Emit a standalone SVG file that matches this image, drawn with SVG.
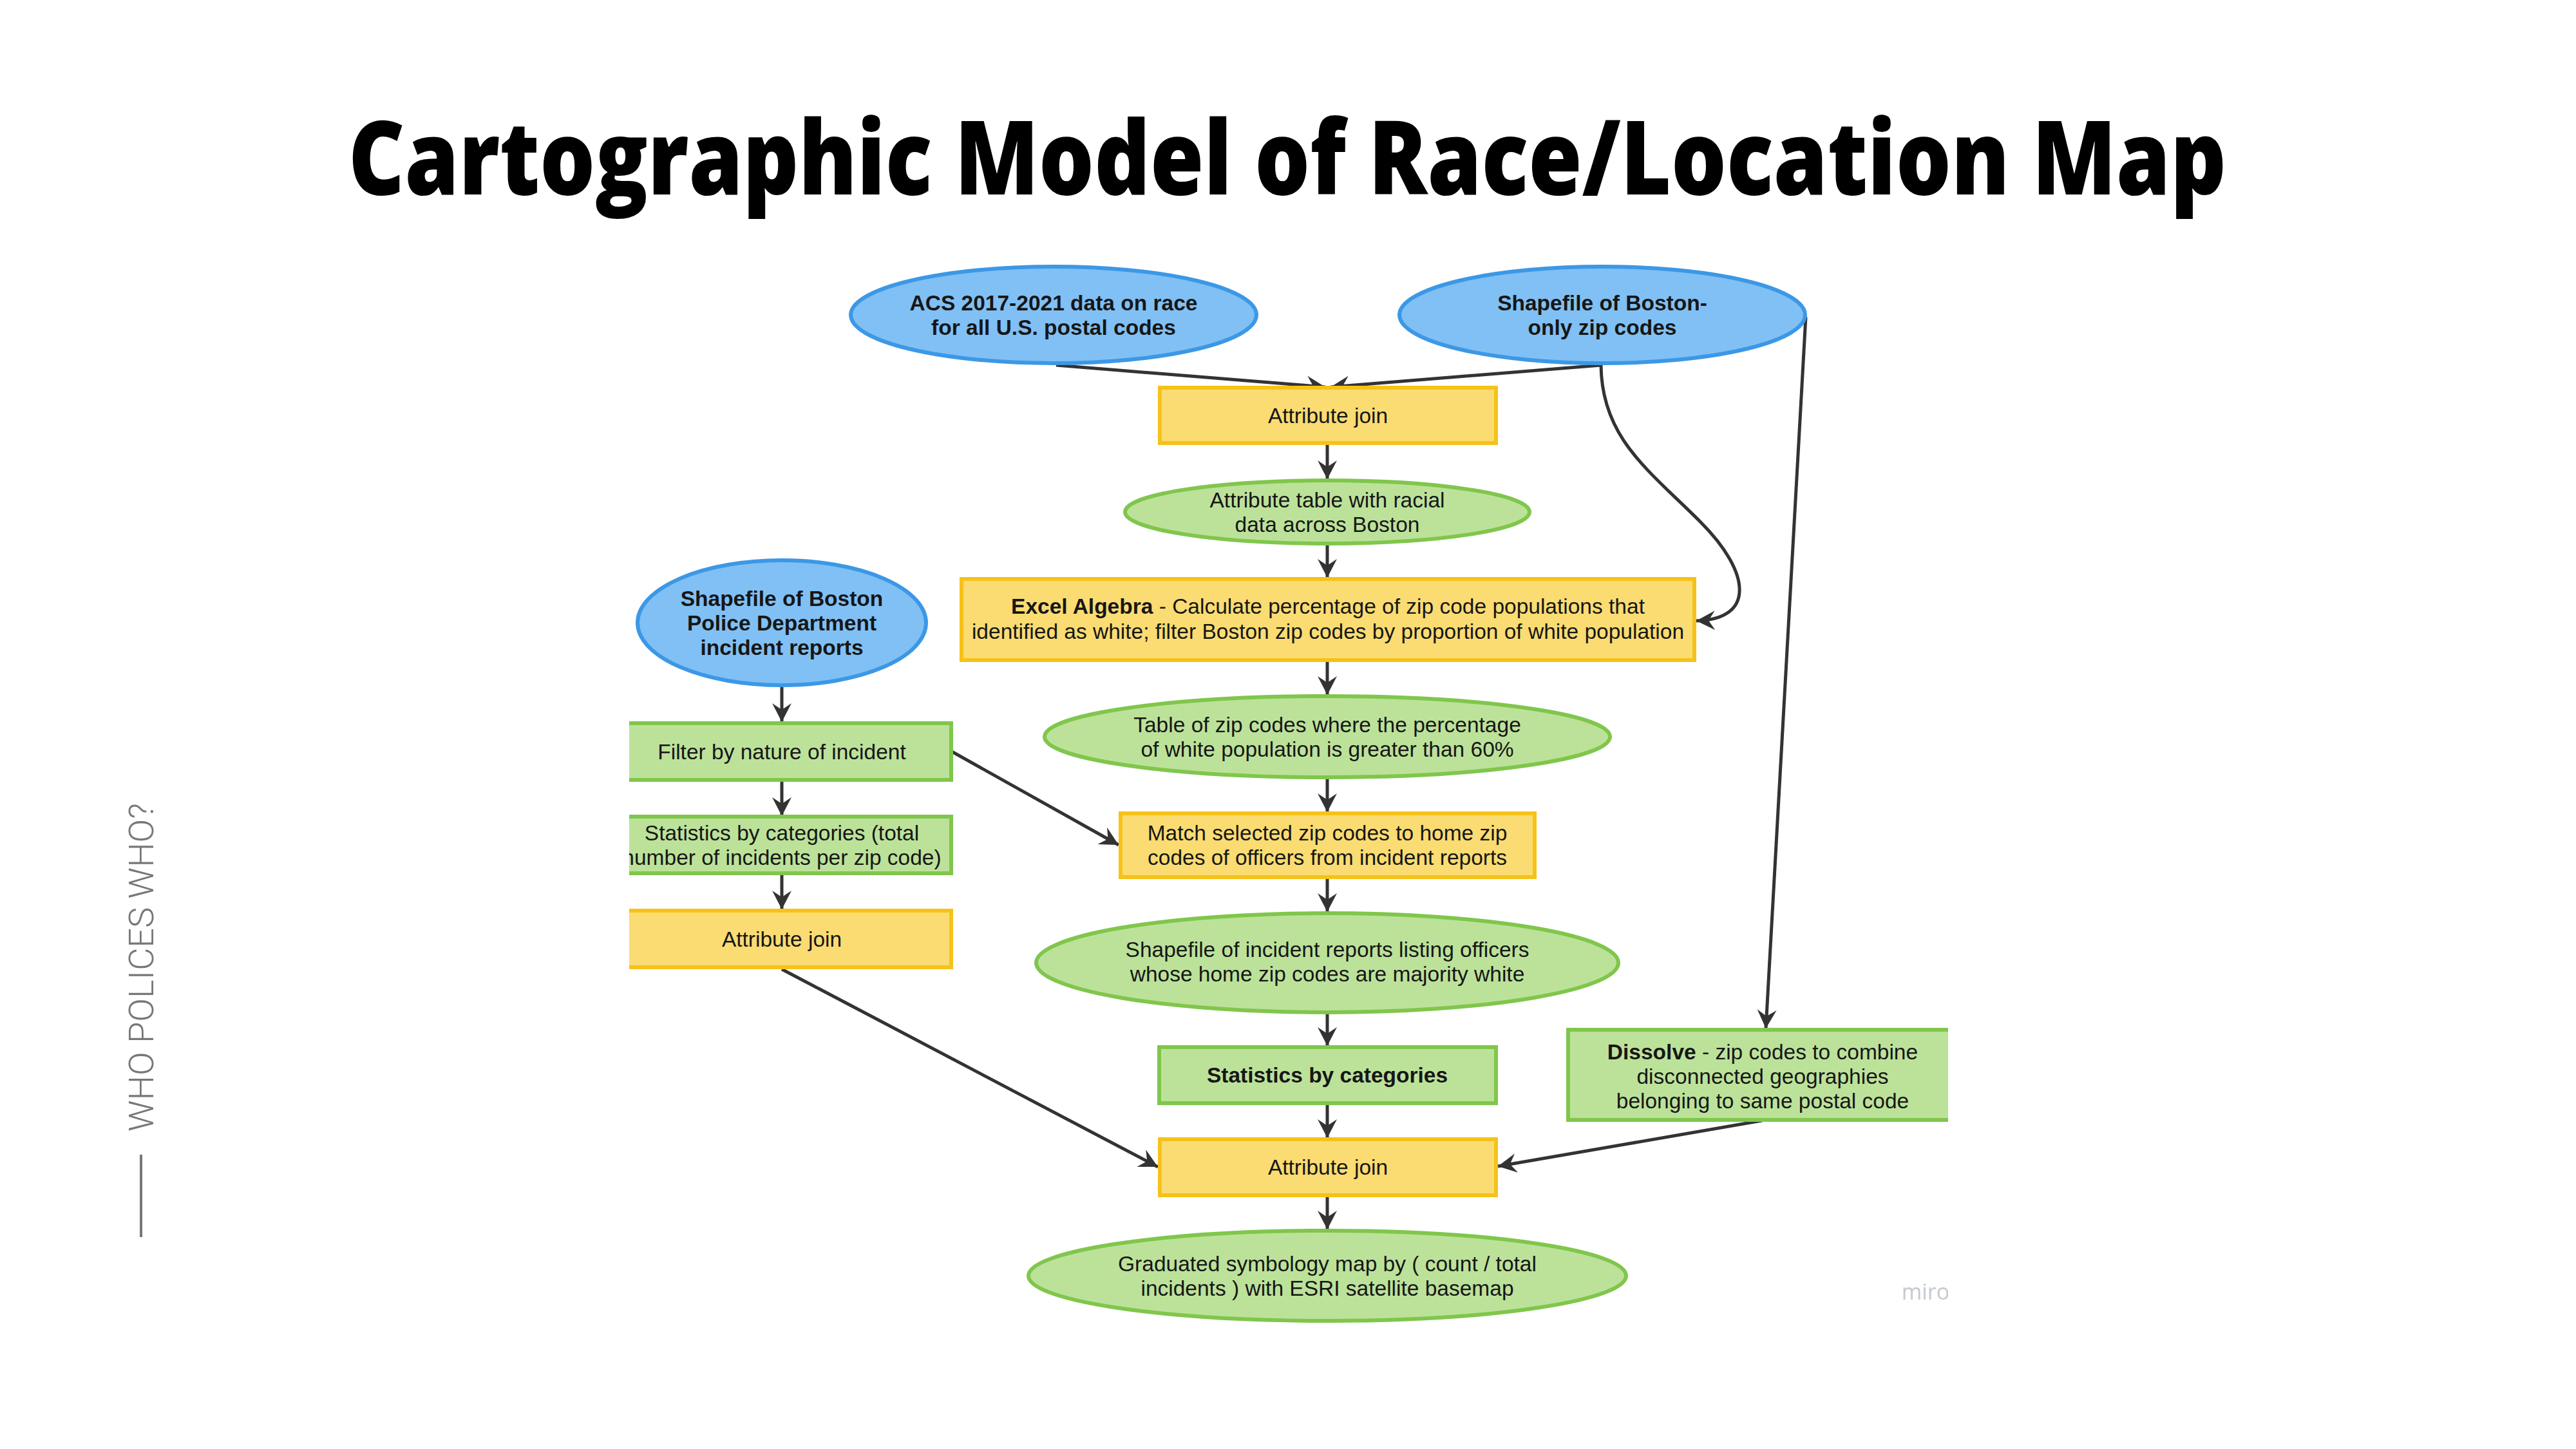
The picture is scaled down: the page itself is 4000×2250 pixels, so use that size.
<svg xmlns="http://www.w3.org/2000/svg" width="4000" height="2250" viewBox="0 0 4000 2250">
<style>
.blue{fill:#80C0F4;stroke:#3C98E6;stroke-width:6}
.green{fill:#BCE29A;stroke:#80C64C;stroke-width:6}
.yellow{fill:#FADC72;stroke:#F6C218;stroke-width:6}
.t{font-family:"Liberation Sans",Arial,sans-serif;font-size:33.5px;fill:#161616;text-anchor:middle}
.b{font-weight:bold}
.conn{stroke:#333;stroke-width:5;fill:none;marker-end:url(#arr)}
</style>
<defs>
<marker id="arr" markerUnits="userSpaceOnUse" markerWidth="34" markerHeight="34" viewBox="-30 -17 34 34" refX="0" refY="0" orient="auto">
<path d="M0,0 L-29,-15 L-19,0 L-29,15 Z" fill="#333"/>
</marker>
<clipPath id="crop"><rect x="977" y="380" width="2048" height="1720"/></clipPath>
</defs>
<rect width="4000" height="2250" fill="#fff"/>
<text x="1999" y="302" font-family="'Open Sans','Liberation Sans',sans-serif" font-weight="800" font-size="160" fill="#000" text-anchor="middle" textLength="2916" lengthAdjust="spacingAndGlyphs">Cartographic Model of Race/Location Map</text>
<g id="side">
<text transform="translate(238,1502) rotate(-90)" font-family="Roboto,'Liberation Sans',sans-serif" font-weight="300" font-size="54" fill="#777" text-anchor="middle" textLength="510" lengthAdjust="spacingAndGlyphs">WHO POLICES WHO?</text>
<line x1="219" y1="1793" x2="219" y2="1921" stroke="#777" stroke-width="4"/>
</g>
<g clip-path="url(#crop)">
<g id="connectors">
<path class="conn" d="M1640,567 L2058,601"/>
<path class="conn" d="M2486,567 L2066,601"/>
<path class="conn" d="M2486,567 C2487,680 2560,730 2640,810 C2720,890 2725,962 2634,964"/>
<path class="conn" d="M2804,492 L2742,1597"/>
<path class="conn" d="M2061,690 V744"/>
<path class="conn" d="M2061,845 V897"/>
<path class="conn" d="M2061,1026 V1079"/>
<path class="conn" d="M2061,1208 V1261"/>
<path class="conn" d="M2061,1363 V1416"/>
<path class="conn" d="M2061,1572 V1624"/>
<path class="conn" d="M2061,1714 V1767"/>
<path class="conn" d="M2061,1857 V1909"/>
<path class="conn" d="M1214,1065 V1121"/>
<path class="conn" d="M1214,1212 V1267"/>
<path class="conn" d="M1214,1357 V1412"/>
<path class="conn" d="M1478,1167 L1737,1312"/>
<path class="conn" d="M1214,1505 L1798,1812"/>
<path class="conn" d="M2736,1740 L2326,1811"/>
</g>
<g id="acs">
<ellipse class="blue" cx="1636" cy="489" rx="315" ry="75"/>
<text class="t b" x="1636" y="482">ACS 2017-2021 data on race</text>
<text class="t b" x="1636" y="520">for all U.S. postal codes</text>
</g>
<g id="shp-boston">
<ellipse class="blue" cx="2488" cy="489" rx="315" ry="75"/>
<text class="t b" x="2488" y="482">Shapefile of Boston-</text>
<text class="t b" x="2488" y="520">only zip codes</text>
</g>
<g id="attr-join-1">
<rect class="yellow" x="1801" y="602" width="522" height="86"/>
<text class="t" x="2062" y="657">Attribute join</text>
</g>
<g id="attr-table">
<ellipse class="green" cx="2061" cy="795" rx="314" ry="49"/>
<text class="t" x="2061" y="788">Attribute table with racial</text>
<text class="t" x="2061" y="826">data across Boston</text>
</g>
<g id="excel">
<rect class="yellow" x="1493" y="899" width="1138" height="126"/>
<text class="t" x="2062" y="953"><tspan class="b">Excel Algebra</tspan> - Calculate percentage of zip code populations that</text>
<text class="t" x="2062" y="992">identified as white; filter Boston zip codes by proportion of white population</text>
</g>
<g id="bpd">
<ellipse class="blue" cx="1214" cy="967" rx="224" ry="97"/>
<text class="t b" x="1214" y="941">Shapefile of Boston</text>
<text class="t b" x="1214" y="979">Police Department</text>
<text class="t b" x="1214" y="1017">incident reports</text>
</g>
<g id="filter">
<rect class="green" x="950" y="1123" width="527" height="88"/>
<text class="t" x="1214" y="1179">Filter by nature of incident</text>
</g>
<g id="table-zip">
<ellipse class="green" cx="2061" cy="1144" rx="439" ry="63"/>
<text class="t" x="2061" y="1137">Table of zip codes where the percentage</text>
<text class="t" x="2061" y="1175">of white population is greater than 60%</text>
</g>
<g id="stats-left">
<rect class="green" x="950" y="1268" width="527" height="88"/>
<text class="t" x="1214" y="1305">Statistics by categories (total</text>
<text class="t" x="1214" y="1343">number of incidents per zip code)</text>
</g>
<g id="match">
<rect class="yellow" x="1740" y="1263" width="643" height="99"/>
<text class="t" x="2061" y="1305">Match selected zip codes to home zip</text>
<text class="t" x="2061" y="1343">codes of officers from incident reports</text>
</g>
<g id="attr-join-left">
<rect class="yellow" x="950" y="1414" width="527" height="88"/>
<text class="t" x="1214" y="1470">Attribute join</text>
</g>
<g id="shp-incident">
<ellipse class="green" cx="2061" cy="1495" rx="452" ry="77"/>
<text class="t" x="2061" y="1486">Shapefile of incident reports listing officers</text>
<text class="t" x="2061" y="1524">whose home zip codes are majority white</text>
</g>
<g id="stats">
<rect class="green" x="1800" y="1626" width="523" height="87"/>
<text class="t b" x="2061" y="1681">Statistics by categories</text>
</g>
<g id="dissolve">
<rect class="green" x="2435" y="1599" width="605" height="140"/>
<text class="t" x="2737" y="1645"><tspan class="b">Dissolve</tspan> - zip codes to combine</text>
<text class="t" x="2737" y="1683">disconnected geographies</text>
<text class="t" x="2737" y="1721">belonging to same postal code</text>
</g>
<g id="attr-join-2">
<rect class="yellow" x="1801" y="1769" width="522" height="87"/>
<text class="t" x="2062" y="1824">Attribute join</text>
</g>
<g id="graduated">
<ellipse class="green" cx="2061" cy="1981" rx="464" ry="70"/>
<text class="t" x="2061" y="1974">Graduated symbology map by ( count / total</text>
<text class="t" x="2061" y="2012">incidents ) with ESRI satellite basemap</text>
</g>
<text x="2990" y="2018" font-family="'Open Sans','Liberation Sans',sans-serif" font-size="34" fill="#c6cad0" text-anchor="middle">miro</text>
</g>
</svg>
